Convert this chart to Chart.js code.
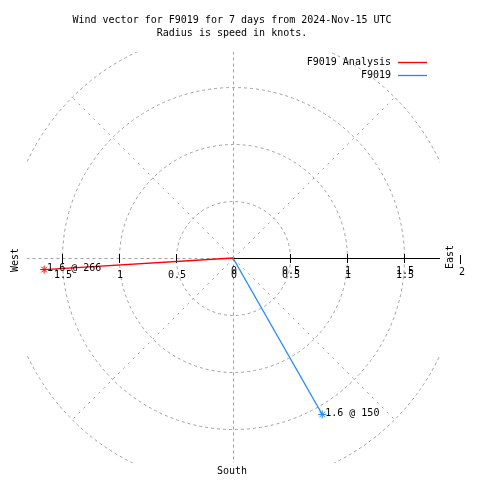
<!DOCTYPE html>
<html>
<head>
<meta charset="utf-8">
<script src="https://cdn.jsdelivr.net/npm/chart.js@4"></script>
<style>
  html, body { margin: 0; padding: 0; background: #ffffff; }
  #wrap { width: 480px; height: 480px; }
</style>
</head>
<body>
<div id="wrap"><canvas id="c" width="480" height="480"></canvas></div>
<script>
// ---- data ----
const titleLines = ['Wind vector for F9019 for 7 days from 2024-Nov-15 UTC', 'Radius is speed in knots.'];
const seriesNames = ['F9019 Analysis', 'F9019'];
const speeds = [1.66, 1.58];          // knots
const directions = [266.5, 150.3];    // degrees, compass
const pointLabels = ['1.6 @ 266', '1.6 @ 150'];
const ringValues = [0.5, 1, 1.5, 2];
const spokeAngles = [0, 45, 90, 135, 180, 225, 270, 315];
const tickValues = [0.5, 1, 1.5];
const tickLabels = ['0.5', '1', '1.5'];
const axisNames = { west: 'West', east: 'East', south: 'South' };

const seriesColors = ['#ff0000', '#1e88ff'];
const FONT = '10px "DejaVu Sans Mono", "Liberation Mono", monospace';
const GRID = '#a0a0a0';

function endPoint(s, d) {
  const r = d * Math.PI / 180;
  return { x: s * Math.sin(r), y: s * Math.cos(r) };
}

const datasets = seriesNames.map((name, i) => ({
  label: name,
  data: [{ x: 0, y: 0 }, endPoint(speeds[i], directions[i])],
  showLine: true,
  borderColor: seriesColors[i],
  backgroundColor: seriesColors[i],
  borderWidth: 1.3,
  pointStyle: 'star',
  pointRadius: [0, 4],
  pointBorderWidth: 1,
  pointBorderColor: seriesColors[i],
  fill: false,
  tension: 0
}));

const polarPlugin = {
  id: 'polar',
  beforeDatasetsDraw(chart) {
    const { ctx, chartArea: a } = chart;
    const xs = chart.scales.x, ys = chart.scales.y;
    const cx = xs.getPixelForValue(0), cy = ys.getPixelForValue(0);
    const k = xs.getPixelForValue(1) - cx;
    const outer = ringValues[ringValues.length - 1] * k;
    ctx.save();
    ctx.beginPath();
    ctx.rect(a.left, a.top, a.right - a.left, a.bottom - a.top);
    ctx.clip();
    ctx.strokeStyle = GRID;
    ctx.lineWidth = 1;
    ctx.setLineDash([3, 3]);
    ringValues.forEach(v => {
      ctx.beginPath();
      ctx.arc(cx + 0.5, cy + 0.5, v * k, 0, Math.PI * 2);
      ctx.stroke();
    });
    spokeAngles.forEach(ang => {
      if (ang === 90) return; // east drawn solid
      const r = ang * Math.PI / 180;
      ctx.setLineDash(ang % 90 === 0 ? [3, 3] : [2, 5]);
      ctx.beginPath();
      ctx.moveTo(cx + 0.5, cy + 0.5);
      ctx.lineTo(cx + 0.5 + outer * Math.sin(r), cy + 0.5 - outer * Math.cos(r));
      ctx.stroke();
    });
    ctx.setLineDash([]);
    ctx.strokeStyle = '#000000';
    ctx.beginPath();
    ctx.moveTo(cx, cy + 0.5);
    ctx.lineTo(a.right, cy + 0.5);
    ctx.stroke();
    ctx.restore();
    // ticks
    ctx.save();
    ctx.strokeStyle = '#000000';
    ctx.lineWidth = 1;
    tickValues.forEach(v => {
      [v, -v].forEach(t => {
        const px = Math.round(xs.getPixelForValue(t)) + 0.5;
        ctx.beginPath();
        ctx.moveTo(px, cy - 4);
        ctx.lineTo(px, cy + 5);
        ctx.stroke();
      });
    });
    ctx.restore();
  },
  afterDatasetsDraw(chart) {
    const { ctx } = chart;
    const xs = chart.scales.x, ys = chart.scales.y;
    const cx = xs.getPixelForValue(0), cy = ys.getPixelForValue(0);
    ctx.save();
    ctx.font = FONT;
    ctx.fillStyle = '#000000';
    ctx.textBaseline = 'middle';
    // title
    ctx.textAlign = 'center';
    ctx.fillText(titleLines[0], 232, 20);
    ctx.fillText(titleLines[1], 232, 33);
    // tick labels
    const lblY = cy + 17;
    ctx.fillText('0', cx + 1, lblY);
    ctx.fillText('0', cx + 1, lblY - 4);
    tickValues.forEach((v, i) => {
      ctx.fillText(tickLabels[i], xs.getPixelForValue(-v) + 1, lblY);
      ctx.fillText(tickLabels[i], xs.getPixelForValue(v) + 1, lblY);
      ctx.fillText(tickLabels[i], xs.getPixelForValue(v) + 1, lblY - 4);
    });
    // axis names
    ctx.fillText(axisNames.south, 232, 471);
    ctx.save();
    ctx.translate(15, 260);
    ctx.rotate(-Math.PI / 2);
    ctx.fillText(axisNames.west, 0, 0);
    ctx.restore();
    ctx.save();
    ctx.translate(450, 257);
    ctx.rotate(-Math.PI / 2);
    ctx.fillText(axisNames.east, 0, 0);
    ctx.restore();
    ctx.fillText('2', 462, 272);
    ctx.strokeStyle = '#000000';
    ctx.beginPath();
    ctx.moveTo(460.5, 255);
    ctx.lineTo(460.5, 264);
    ctx.stroke();
    // point labels
    ctx.textAlign = 'left';
    chart.data.datasets.forEach((ds, i) => {
      const p = ds.data[1];
      const px = xs.getPixelForValue(p.x), py = ys.getPixelForValue(p.y);
      ctx.fillText(pointLabels[i], px + 3, py - 1);
    });
    // legend
    ctx.textAlign = 'right';
    seriesNames.forEach((n, i) => {
      const y = 62 + i * 13;
      ctx.fillStyle = '#000000';
      ctx.fillText(n, 391, y);
      ctx.strokeStyle = seriesColors[i];
      ctx.lineWidth = 1.3;
      ctx.beginPath();
      ctx.moveTo(398, y + 0.5);
      ctx.lineTo(427, y + 0.5);
      ctx.stroke();
    });
    ctx.restore();
  }
};

new Chart(document.getElementById('c'), {
  type: 'scatter',
  data: { datasets },
  options: {
    responsive: false,
    animation: false,
    layout: { padding: { left: 27, right: 40, top: 52, bottom: 17 } },
    scales: {
      x: { type: 'linear', min: -1.807, max: 1.816, display: false },
      y: { type: 'linear', min: -1.798, max: 1.807, display: false }
    },
    plugins: {
      legend: { display: false },
      title: { display: false },
      tooltip: { enabled: false }
    }
  },
  plugins: [polarPlugin]
});
</script>
</body>
</html>
